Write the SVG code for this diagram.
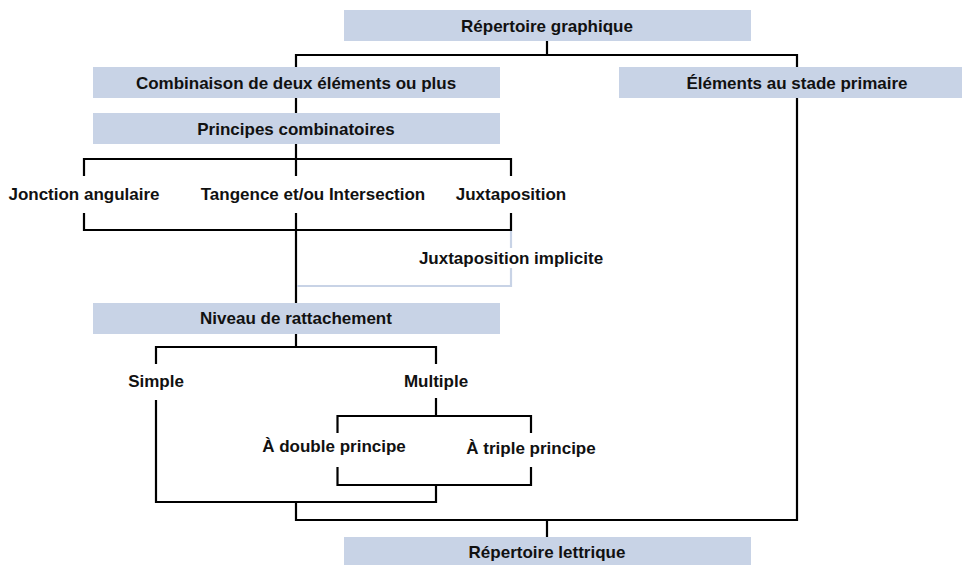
<svg xmlns="http://www.w3.org/2000/svg" width="962" height="565" viewBox="0 0 962 565">
<style>
.box{fill:#c8d3e6}
.t{font-family:"Liberation Sans",Arial,sans-serif;font-weight:bold;font-size:17px;fill:#111;text-anchor:middle}
.c{fill:none;stroke:#000;stroke-width:2.2}
.l{fill:none;stroke:#c8d3e6;stroke-width:2.2}
</style>
<rect width="962" height="565" fill="#fff"/>
<g id="connectors">
<path class="c" d="M547 41V55M296 67V55H797V67M296 98V113M296 144V176M84 176V159H511V176M84 213V230H511V213M296 213V303M797 98V520H296V502M547 520V537M296 334V347M156 364V347H436V364M156 400V502H436V485M436 398V416M337.5 433V416H531V433M337.5 467V485H531V467"/>
<path class="l" d="M511 231V248M511 268V286H297"/>
</g>
<g id="n-graphique"><rect class="box" x="344" y="10" width="407" height="31"/><text class="t" x="547" y="32">Répertoire graphique</text></g>
<g id="n-combinaison"><rect class="box" x="93" y="67" width="407" height="31"/><text class="t" x="296" y="89">Combinaison de deux éléments ou plus</text></g>
<g id="n-elements"><rect class="box" x="619" y="67" width="343" height="31"/><text class="t" x="797" y="89">Éléments au stade primaire</text></g>
<g id="n-principes"><rect class="box" x="93" y="113" width="407" height="31"/><text class="t" x="296" y="135">Principes combinatoires</text></g>
<g id="n-jonction"><text class="t" x="84" y="200">Jonction angulaire</text></g>
<g id="n-tangence"><text class="t" x="313" y="200">Tangence et/ou Intersection</text></g>
<g id="n-juxta"><text class="t" x="511" y="200">Juxtaposition</text></g>
<g id="n-juxta-impl"><text class="t" x="511" y="264">Juxtaposition implicite</text></g>
<g id="n-niveau"><rect class="box" x="93" y="303" width="407" height="31"/><text class="t" x="296" y="324">Niveau de rattachement</text></g>
<g id="n-simple"><text class="t" x="156" y="387">Simple</text></g>
<g id="n-multiple"><text class="t" x="436" y="387">Multiple</text></g>
<g id="n-double"><text class="t" x="334" y="452">À double principe</text></g>
<g id="n-triple"><text class="t" x="531" y="454">À triple principe</text></g>
<g id="n-lettrique"><rect class="box" x="344" y="537" width="407" height="28"/><text class="t" x="547" y="558">Répertoire lettrique</text></g>
</svg>
